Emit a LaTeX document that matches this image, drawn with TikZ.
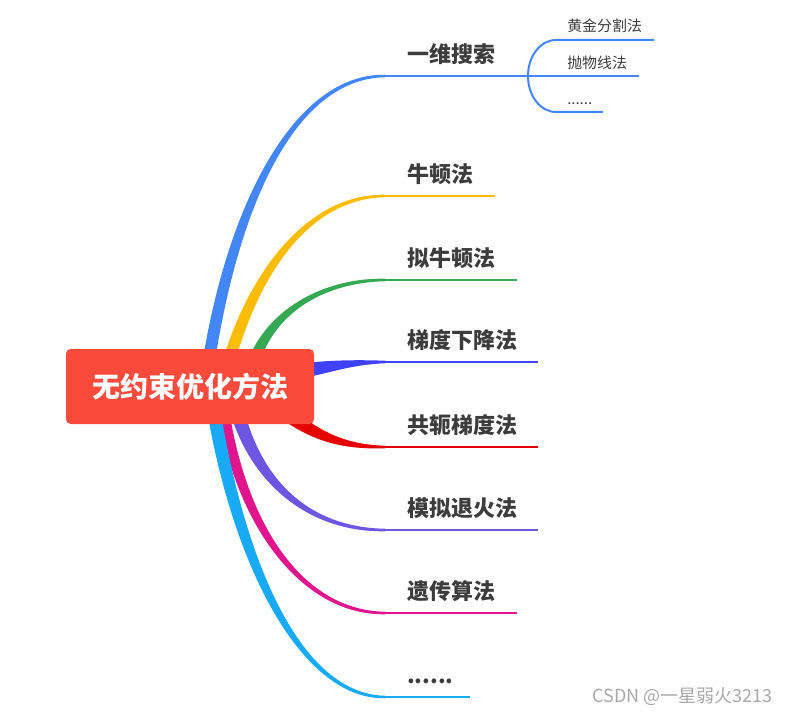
\documentclass[tikz,border=0pt]{standalone}
\usepackage{fontspec}
\setmainfont{Noto Sans CJK SC}
\usetikzlibrary{calc}
\pgfdeclarelayer{bg}
\pgfsetlayers{bg,main}
\definecolor{rootred}{HTML}{F94A3C}
\definecolor{txt}{HTML}{3C3C3C}
\definecolor{wmgray}{HTML}{A8A8A8}
\definecolor{cblue}{HTML}{4386F5}
\definecolor{cyellow}{HTML}{FBBC05}
\definecolor{cgreen}{HTML}{34A853}
\definecolor{cbp}{HTML}{4040FF}
\definecolor{cred}{HTML}{E60000}
\definecolor{cpurple}{HTML}{6E55E2}
\definecolor{cmag}{HTML}{E0158E}
\definecolor{ccyan}{HTML}{16AAF7}
% #1 colour, #2 start, #3 first control, #4 second control, #5 end,
% #6 half width at start, #7 half width at second control, #8 half width at end
\newcommand\taperbranch[8]{%
  \fill[#1] ($(#2)!#6!90:(#3)$) .. controls ($(#3)!#6!-90:(#2)$) and ($(#4)!#7!90:(#5)$) .. ($(#5)!#8!-90:(#4)$)
    -- ($(#5)!#8!90:(#4)$) .. controls ($(#4)!#7!-90:(#5)$) and ($(#3)!#6!90:(#2)$) .. ($(#2)!#6!-90:(#3)$) -- cycle;}
\begin{document}
\begin{tikzpicture}[x=0.75pt,y=-0.75pt,
  rootbox/.style={fill=rootred, rounded corners=3.5pt, minimum width=186pt, minimum height=56.25pt,
    inner sep=0pt, text=white, font=\fontsize{21pt}{24pt}\selectfont\bfseries},
  lbl/.style={anchor=base west, inner sep=0pt, text=txt, font=\fontsize{16.5pt}{19pt}\selectfont\bfseries},
  sublbl/.style={anchor=base west, inner sep=0pt, text=txt, font=\fontsize{11.2pt}{13pt}\selectfont},
  stem/.style={line width=1.9pt},
  substem/.style={line width=1.5pt, cblue},
  wmark/.style={anchor=east, inner sep=0pt, text=wmgray, font=\fontsize{13.5pt}{15pt}\selectfont}]
\useasboundingbox (0,0) rectangle (788,716);

% root
\node[rootbox] (root) at (190,386.5) {无约束优化方法};

% labels
\node[lbl] (l1) at (407,62.5) {一维搜索};
\node[lbl] (l2) at (407,182.5) {牛顿法};
\node[lbl] (l3) at (407,266.5) {拟牛顿法};
\node[lbl] (l4) at (407,348.5) {梯度下降法};
\node[lbl] (l5) at (407,433.5) {共轭梯度法};
\node[lbl] (l6) at (407,516.5) {模拟退火法};
\node[lbl] (l7) at (407,599.5) {遗传算法};
\node[lbl] (l8) at (407,683.5) {......};

\node[sublbl] (s1) at (567,31.5) {黄金分割法};
\node[sublbl] (s2) at (567,68.5) {抛物线法};
\node[sublbl] (s3) at (567,104.5) {......};

\node[wmark] (wm) at (773,697) {CSDN @一星弱火3213};

% curve end points and line ends
\coordinate (e1) at (385,76);   \coordinate (f1) at (639,76);
\coordinate (e2) at (385,196);  \coordinate (f2) at (495,196);
\coordinate (e3) at (385,280);  \coordinate (f3) at (517,280);
\coordinate (e4) at (385,362);  \coordinate (f4) at (538,362);
\coordinate (e5) at (385,447);  \coordinate (f5) at (538,447);
\coordinate (e6) at (385,530);  \coordinate (f6) at (538,530);
\coordinate (e7) at (385,613);  \coordinate (f7) at (517,613);
\coordinate (e8) at (385,697);  \coordinate (f8) at (470,697);

% starts (behind the root box) and controls
\coordinate (a1) at ($(root.center)+(15,0.5)$);   \coordinate (p1) at (228,213); \coordinate (q1) at (292,76);
\coordinate (a2) at ($(root.center)+(32,0.5)$);   \coordinate (p2) at (247,280); \coordinate (q2) at (305,196);
\coordinate (a3) at ($(root.center)+(58,0.5)$);   \coordinate (p3) at (256,318); \coordinate (q3) at (318,280);
\coordinate (a4) at ($(root.center)+(100,-14.5)$); \coordinate (p4) at (320,369); \coordinate (q4) at (345,362);
\coordinate (a5) at ($(root.center)+(80,13.5)$);  \coordinate (p5) at (310,435); \coordinate (q5) at (340,447);
\coordinate (a6) at ($(root.center)+(42,0.5)$);   \coordinate (p6) at (245,470); \coordinate (q6) at (300,530);
\coordinate (a7) at ($(root.center)+(30,0.5)$);   \coordinate (p7) at (235,520); \coordinate (q7) at (300,613);
\coordinate (a8) at ($(root.center)+(20,0.5)$);   \coordinate (p8) at (235,560); \coordinate (q8) at (300,697);

% sub-branch bracket
\coordinate (br) at (528,76);
\coordinate (bt) at (556,40);  \coordinate (bte) at (654,40);
\coordinate (bb) at (556,112); \coordinate (bbe) at (603,112);

\begin{pgfonlayer}{bg}
  \taperbranch{cblue}{a1}{p1}{q1}{e1}{4.6pt}{2.1pt}{0.94pt}
  \taperbranch{cyellow}{a2}{p2}{q2}{e2}{4.6pt}{2.1pt}{0.94pt}
  \taperbranch{cgreen}{a3}{p3}{q3}{e3}{4.6pt}{2.1pt}{0.94pt}
  \taperbranch{cbp}{a4}{p4}{q4}{e4}{5.8pt}{2.1pt}{0.94pt}
  \taperbranch{cred}{a5}{p5}{q5}{e5}{5.6pt}{2.1pt}{0.94pt}
  \taperbranch{cpurple}{a6}{p6}{q6}{e6}{5.4pt}{2.1pt}{0.94pt}
  \taperbranch{cmag}{a7}{p7}{q7}{e7}{4.4pt}{2.0pt}{0.94pt}
  \taperbranch{ccyan}{a8}{p8}{q8}{e8}{5.0pt}{2.1pt}{0.94pt}
  \draw[stem, cblue] (e1) -- (br);
  \draw[substem] (br) -- (f1);
  \draw[stem, cyellow] (e2) -- (f2);
  \draw[stem, cgreen] (e3) -- (f3);
  \draw[stem, cbp] (e4) -- (f4);
  \draw[stem, cred] (e5) -- (f5);
  \draw[stem, cpurple] (e6) -- (f6);
  \draw[stem, cmag] (e7) -- (f7);
  \draw[stem, ccyan] (e8) -- (f8);
  \draw[substem] (br) .. controls (528,56) and (540.5,40) .. (bt) -- (bte);
  \draw[substem] (br) .. controls (528,96) and (540.5,112) .. (bb) -- (bbe);
\end{pgfonlayer}
\end{tikzpicture}
\end{document}
